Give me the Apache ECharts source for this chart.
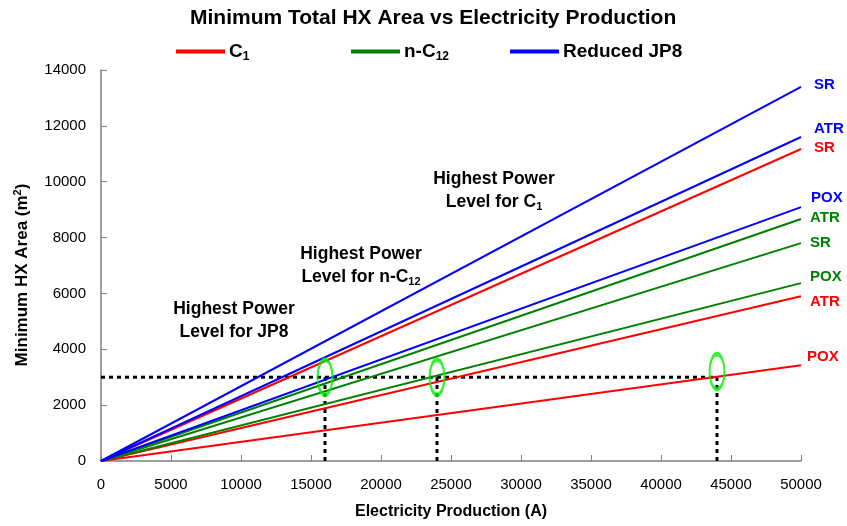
<!DOCTYPE html>
<html><head><meta charset="utf-8">
<script src="https://cdn.jsdelivr.net/npm/echarts@6/dist/echarts.min.js"></script>
<style>html,body{margin:0;padding:0;background:#fff}#c{width:847px;height:526px}</style>
</head><body><div id="c"></div>
<script>
const xPoints = [0, 50000];
const c1POX = [0, 3430];
const c1ATR = [0, 5900];
const c1SR = [0, 11170];
const nc12POX = [0, 6370];
const nc12SR = [0, 7800];
const nc12ATR = [0, 8665];
const jp8POX = [0, 9090];
const jp8ATR = [0, 11600];
const jp8SR = [0, 13400];
const thresholdArea = 3000;
const highestPower = [16000, 24000, 44000];
const markerArea = [3000, 3000, 3200];
const legendNames = ['C1', 'n-C12', 'Reduced JP8'];
const xTicks = [0, 5000, 10000, 15000, 20000, 25000, 30000, 35000, 40000, 45000, 50000];
const yTicks = [0, 2000, 4000, 6000, 8000, 10000, 12000, 14000];

const RED = '#ff0000', GREEN = '#008000', BLUE = '#0000ff';
const FONT = '"Liberation Sans", Arial, sans-serif';

function pts(vals) { return xPoints.map((x, i) => [x, vals[i]]); }

function lineSeries(name, color, vals, label, offset) {
  return {
    type: 'line', name: name, data: pts(vals), symbol: 'none', silent: true,
    lineStyle: { color: color, width: 2 }, itemStyle: { color: color },
    endLabel: { show: true, formatter: label, color: color, fontFamily: FONT,
      fontWeight: 'bold', fontSize: 15, distance: 5, offset: offset },
    z: 3
  };
}

const series = [
  lineSeries('C1', RED, c1POX, 'POX', [1, -8]),
  lineSeries('C1', RED, c1ATR, 'ATR', [4, 6]),
  lineSeries('C1', RED, c1SR, 'SR', [8, -1]),
  lineSeries('n-C12', GREEN, nc12POX, 'POX', [4, -6]),
  lineSeries('n-C12', GREEN, nc12SR, 'SR', [4, 0]),
  lineSeries('n-C12', GREEN, nc12ATR, 'ATR', [4, -1]),
  lineSeries('Reduced JP8', BLUE, jp8POX, 'POX', [5, -9]),
  lineSeries('Reduced JP8', BLUE, jp8ATR, 'ATR', [8, -8]),
  lineSeries('Reduced JP8', BLUE, jp8SR, 'SR', [8, -2])
];

const dashStyle = { color: '#000', width: 3, type: [4, 4] };
series.push({
  type: 'line', name: 'threshold', data: [[0, thresholdArea], [highestPower[highestPower.length - 1], thresholdArea]],
  symbol: 'none', silent: true, lineStyle: dashStyle, z: 2
});
highestPower.forEach(p => {
  series.push({
    type: 'line', name: 'threshold', data: [[p, 0], [p, thresholdArea]],
    symbol: 'none', silent: true, lineStyle: dashStyle, z: 2
  });
});
series.push({
  type: 'scatter', name: 'marker', silent: true,
  data: highestPower.map((p, i) => [p, markerArea[i]]),
  symbol: 'circle', symbolSize: [15, 35],
  itemStyle: { color: 'rgba(0,0,0,0)', borderColor: '#00ee00', borderWidth: 3 },
  z: 5
});

function rich(size) {
  return {
    b: { fontFamily: FONT, fontWeight: 'bold', fontSize: size, color: '#000' },
    s: { fontFamily: FONT, fontWeight: 'bold', fontSize: Math.round(size * 0.65), color: '#000', padding: [Math.round(size * 0.5), 0, 0, 0] }
  };
}
const legendText = {
  'C1': '{b|C}{s|1}',
  'n-C12': '{b|n-C}{s|12}',
  'Reduced JP8': '{b|Reduced JP8}'
};
const legendLeft = [176, 351, 510];

const chart = echarts.init(document.getElementById('c'));
chart.setOption({
  animation: false,
  title: {
    text: 'Minimum Total HX Area vs Electricity Production', left: 185, top: 3,
    textStyle: { fontFamily: FONT, fontWeight: 'bold', fontSize: 21, color: '#000' }
  },
  legend: legendNames.map((n, i) => ({
    data: [n], top: 42, left: legendLeft[i], itemGap: 0, padding: 0,
    icon: 'rect', itemWidth: 49, itemHeight: 4,
    formatter: nm => legendText[nm],
    textStyle: { rich: rich(19), padding: [0, 0, 0, -1] }
  })),
  grid: { left: 101, right: 46, top: 70, bottom: 65 },
  xAxis: {
    type: 'value', min: xTicks[0], max: xTicks[xTicks.length - 1], interval: 5000,
    name: 'Electricity Production (A)', nameLocation: 'middle', nameGap: 43,
    nameTextStyle: { fontFamily: FONT, fontWeight: 'bold', fontSize: 16, color: '#000' },
    axisLine: { lineStyle: { color: '#808080', width: 1.5 } },
    axisTick: { inside: true, length: 6, lineStyle: { color: '#808080' } },
    axisLabel: { fontFamily: FONT, fontSize: 15, color: '#000', margin: 16, formatter: v => String(v) },
    splitLine: { show: false }
  },
  yAxis: {
    type: 'value', min: yTicks[0], max: yTicks[yTicks.length - 1], interval: 2000,
    axisLine: { show: true, lineStyle: { color: '#808080', width: 1.5 } },
    axisTick: { show: true, inside: true, length: 6, lineStyle: { color: '#808080' } },
    axisLabel: { fontFamily: FONT, fontSize: 15, color: '#000', margin: 15, formatter: v => String(v) },
    splitLine: { show: false }
  },
  graphic: [
    { type: 'text', x: 22, y: 275, rotation: Math.PI / 2,
      style: { text: '{b|Minimum HX Area (m}{p|2}{b|)}', align: 'center', verticalAlign: 'middle',
        rich: {
          b: { fontFamily: FONT, fontWeight: 'bold', fontSize: 17, color: '#000' },
          p: { fontFamily: FONT, fontWeight: 'bold', fontSize: 11, color: '#000', padding: [0, 0, 9, 0] }
        } } },
    { type: 'text', x: 494, y: 168, style: { text: '{b|Highest Power}\n{b|Level for C}{s|1}', rich: rich(17.5), align: 'center', verticalAlign: 'top', lineHeight: 23 } },
    { type: 'text', x: 361, y: 243, style: { text: '{b|Highest Power}\n{b|Level for n-C}{s|12}', rich: rich(17.5), align: 'center', verticalAlign: 'top', lineHeight: 23 } },
    { type: 'text', x: 234, y: 298, style: { text: '{b|Highest Power}\n{b|Level for JP8}', rich: rich(17.5), align: 'center', verticalAlign: 'top', lineHeight: 23 } }
  ],
  series: series
});
</script></body></html>
